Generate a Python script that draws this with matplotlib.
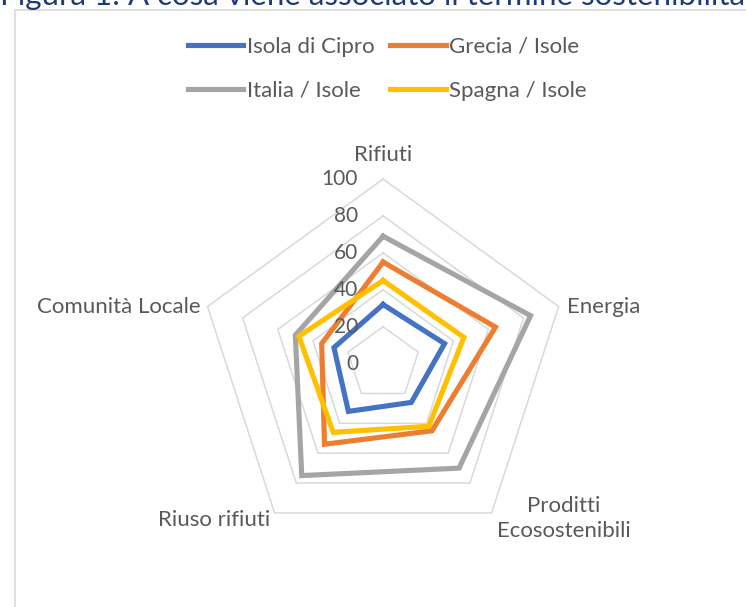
import numpy as np
import matplotlib
matplotlib.use('Agg')
import matplotlib.pyplot as plt
from matplotlib.patches import Rectangle

categories = ['Rifiuti', 'Energia', 'Proditti\nEcosostenibili', 'Riuso rifiuti', 'Comunità Locale']
cipro = [32, 35, 26, 32, 28]
grecia = [55, 64, 45, 54, 35]
italia = [69, 84, 70, 75, 50]
spagna = [45, 46, 42, 46, 48]
ticks = [0, 20, 40, 60, 80, 100]

series = [('Isola di Cipro', cipro, '#4472C4'),
          ('Grecia / Isole', grecia, '#ED7D31'),
          ('Italia / Isole', italia, '#A5A5A5'),
          ('Spagna / Isole', spagna, '#FFC000')]

plt.rcParams['font.family'] = ['Lato', 'DejaVu Sans']
txt_col = '#595959'

fig = plt.figure(figsize=(7.46, 6.07), dpi=100)
ax = fig.add_axes([0.2661, 0.0969, 0.4949, 0.6082], projection='polar')
ax.set_theta_offset(np.pi / 2)
ax.set_theta_direction(-1)
ax.set_ylim(0, 100)
ax.grid(False)
ax.spines['polar'].set_visible(False)
ax.set_xticks([])
ax.set_yticks([])
ax.patch.set_alpha(0)

n = len(categories)
theta = np.arange(n) * 2 * np.pi / n
theta_c = np.append(theta, theta[0])

# pentagon rings
for t in ticks[1:]:
    ax.plot(theta_c, [t] * (n + 1), color='#D9D9D9', lw=1.1, clip_on=False, zorder=1)

lines = []
for name, vals, col in series:
    v = np.append(vals, vals[0])
    l, = ax.plot(theta_c, v, color=col, lw=3.7, solid_joinstyle='miter',
                 label=name, clip_on=False, zorder=3)
    lines.append(l)

# value labels along top axis
for t in ticks:
    ax.annotate(str(t), xy=(0, t), xytext=(-18, 0), textcoords='offset points',
                ha='right', va='center', fontsize=15, color=txt_col,
                annotation_clip=False, zorder=4)

# category labels (offsets in points)
offs = [((0, 17), 'center'), ((6, 0), 'left'), ((52, -4), 'center'),
        ((-3, -5), 'right'), ((-5, 0), 'right')]
for th, lab, (o, ha) in zip(theta, categories, offs):
    ax.annotate(lab, xy=(th, 100), xytext=o, textcoords='offset points',
                ha=ha, va='center', fontsize=16, color=txt_col,
                multialignment='center', linespacing=1.3,
                annotation_clip=False)

# legend filled column-wise, so reorder to get rows Cipro/Grecia, Italia/Spagna
order = [0, 2, 1, 3]
fig.legend(handles=[lines[i] for i in order], loc='center',
           bbox_to_anchor=(0.519, 0.887), ncol=2,
           frameon=False, fontsize=16, handlelength=2.5, handletextpad=0.15,
           columnspacing=0.7, labelspacing=1.08, labelcolor=txt_col)

# chart frame and clipped caption
fig.patches.append(Rectangle((15 / 746, -0.1), 1.2, 1.1 - 10 / 607,
                             transform=fig.transFigure, fill=False,
                             edgecolor='#D9D9D9', lw=1.2))
fig.text(0.0, 1 - 5 / 607, 'Figura 1: A cosa viene associato il termine sostenibilità',
         ha='left', va='baseline', fontsize=22.5, color='#1F3A78')

plt.savefig('out.png', dpi=100)
